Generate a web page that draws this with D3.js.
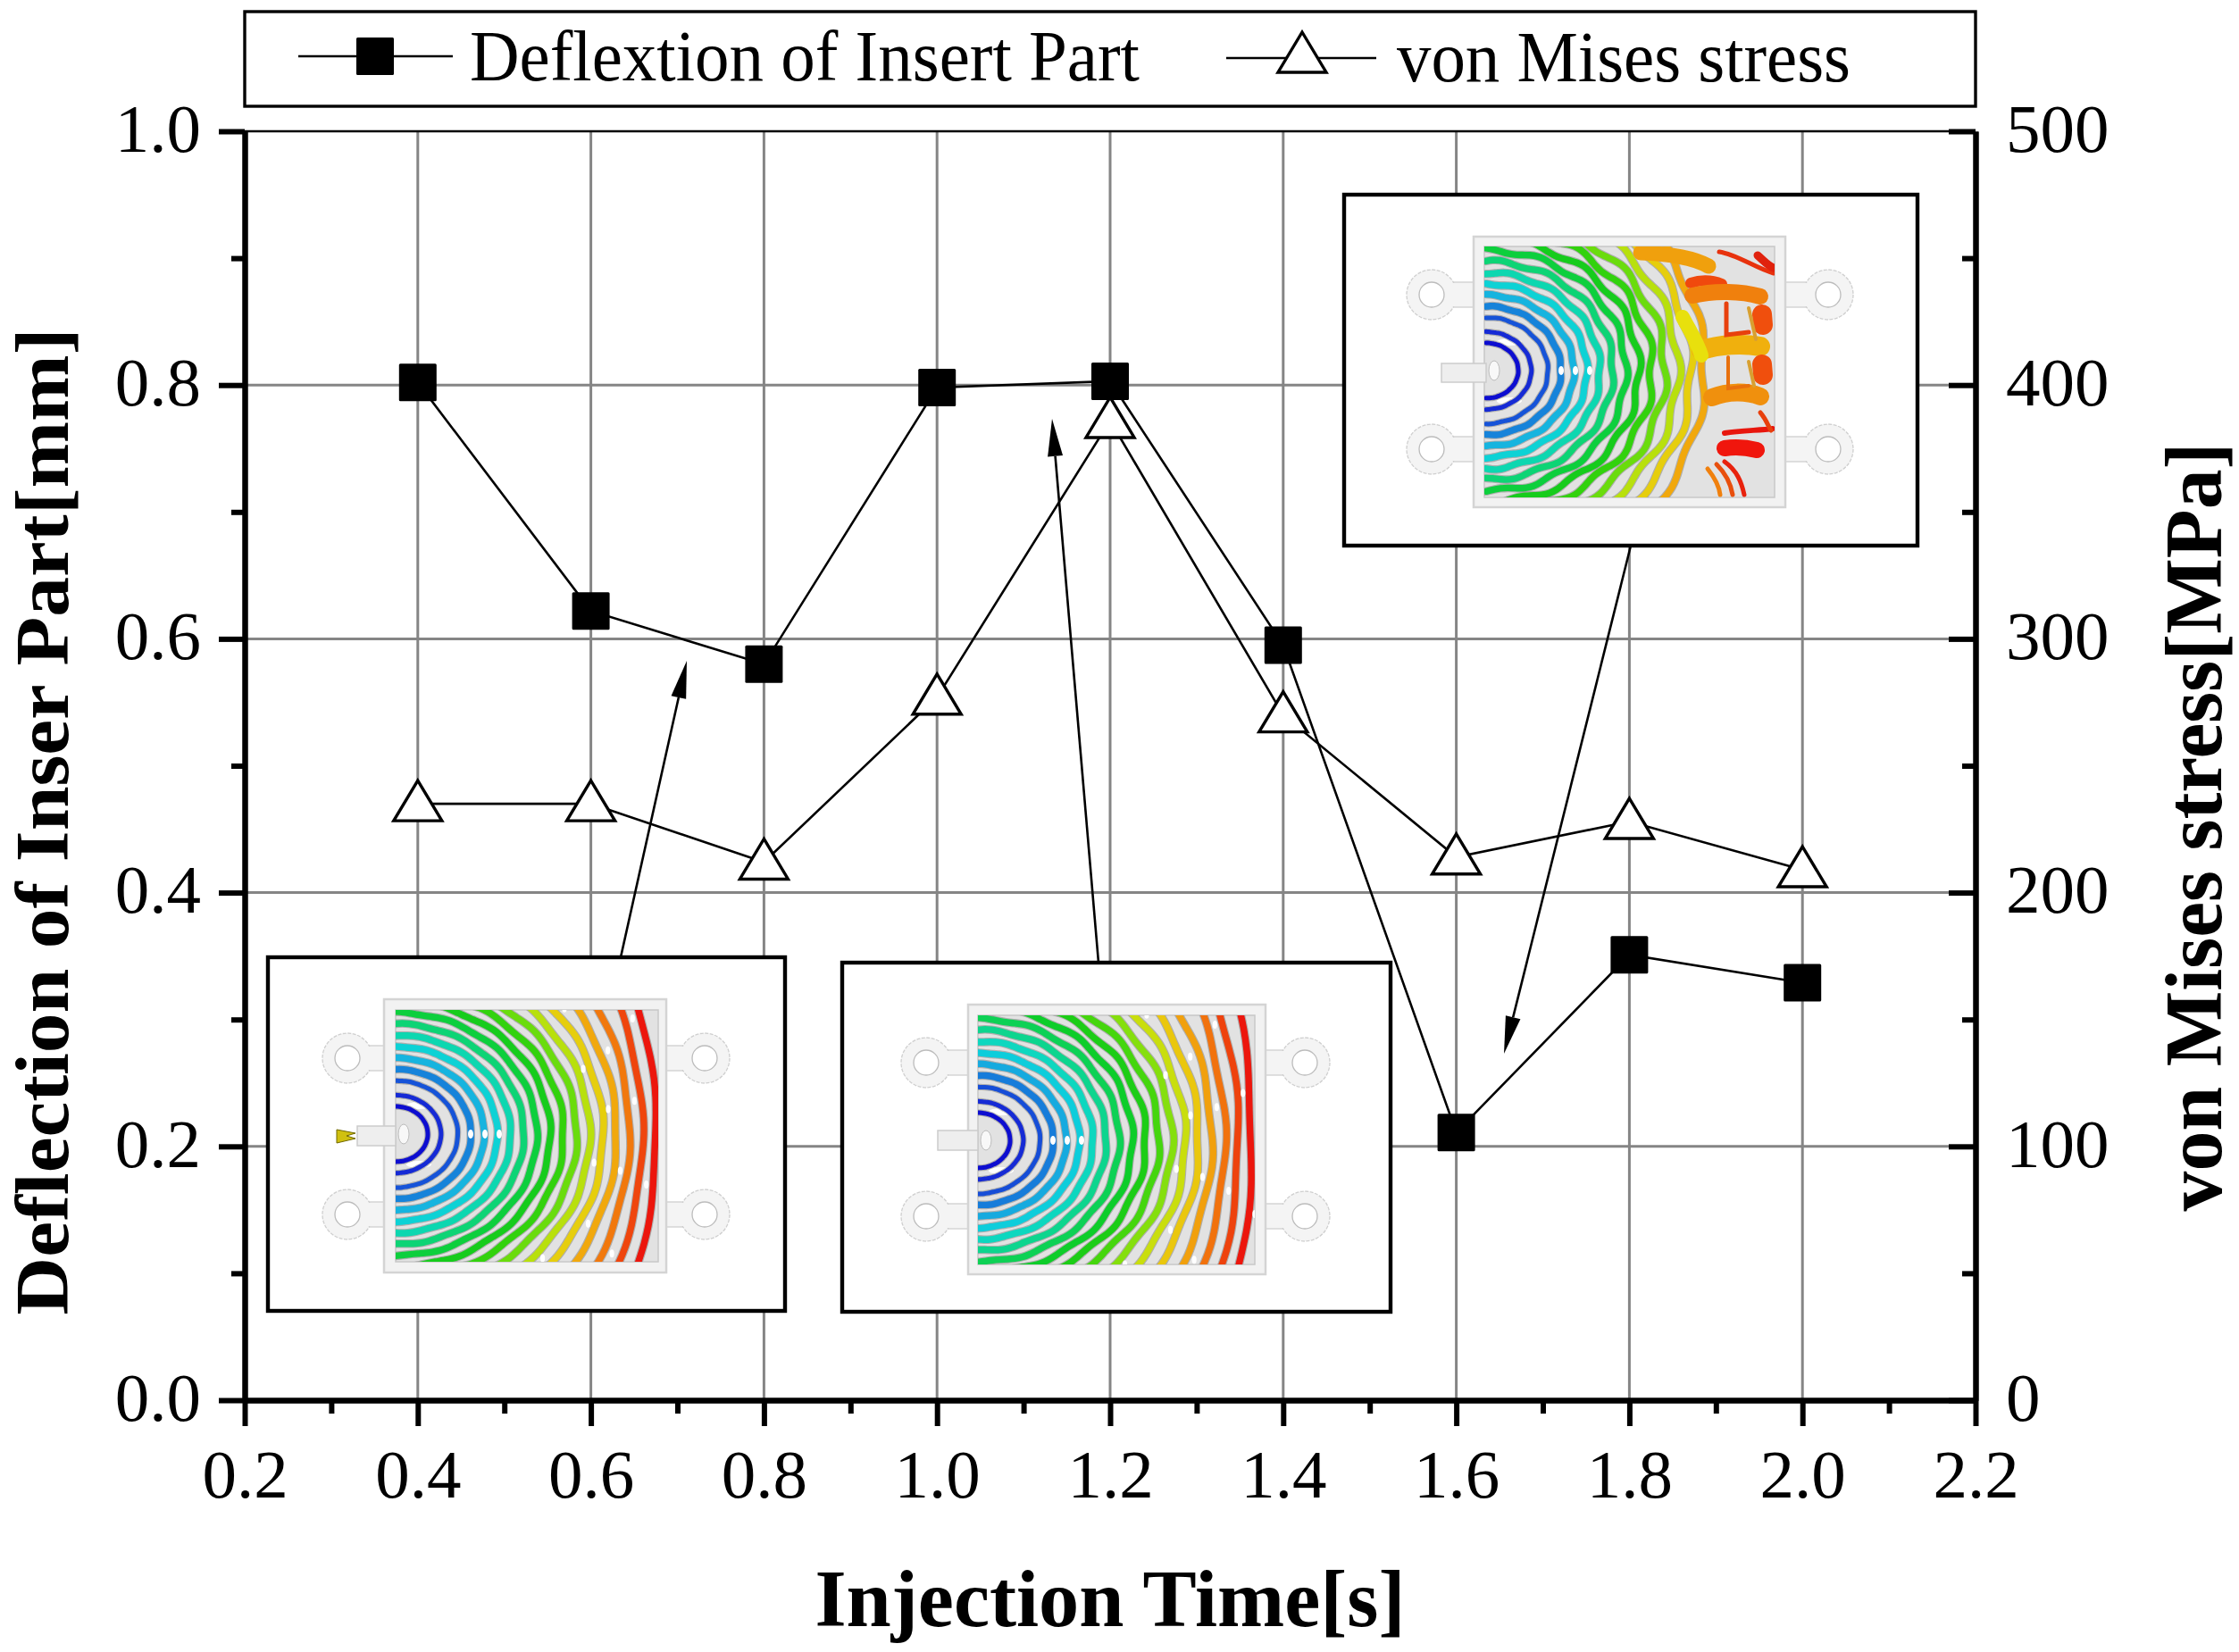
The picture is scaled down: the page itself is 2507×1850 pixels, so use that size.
<!DOCTYPE html>
<html>
<head>
<meta charset="utf-8">
<script src="https://cdn.jsdelivr.net/npm/d3@7/dist/d3.min.js"></script>
<style>
html,body{margin:0;padding:0;background:#fff;}
svg{display:block;}
text{font-family:"Liberation Serif",serif;fill:#000;}
</style>
</head>
<body>
<svg id="chart" width="2507" height="1850"></svg>
<script>
// ---- chart values ----
const injectionTimes = [0.4, 0.6, 0.8, 1.0, 1.2, 1.4, 1.6, 1.8, 2.0];
const deflection = [0.802, 0.622, 0.580, 0.798, 0.803, 0.595, 0.211, 0.351, 0.329];
const vonMises = [235, 235, 212, 277, 386, 270, 214, 228, 209];
const xMajorTicks = [0.2, 0.4, 0.6, 0.8, 1.0, 1.2, 1.4, 1.6, 1.8, 2.0, 2.2];
const xMinorTicks = [0.3, 0.5, 0.7, 0.9, 1.1, 1.3, 1.5, 1.7, 1.9, 2.1];
const deflMajorTicks = [0.0, 0.2, 0.4, 0.6, 0.8, 1.0];
const deflMinorTicks = [0.1, 0.3, 0.5, 0.7, 0.9];
const stressMajorTicks = [0, 100, 200, 300, 400, 500];
const stressMinorTicks = [50, 150, 250, 350, 450];
const legendLabels = ["Deflextion of Insert Part", "von Mises stress"];
const xTitle = "Injection Time[s]";
const yLeftTitle = "Deflection of Inser Part[mm]";
const yRightTitle = "von Mises stress[MPa]";

// ---- layout ----
const L = 274, R = 2212, T = 147, B = 1568;
const svg = d3.select("#chart");
const x = d3.scaleLinear().domain([0.2, 2.2]).range([L, R]);
const yL = d3.scaleLinear().domain([0, 1]).range([B, T]);
const yR = d3.scaleLinear().domain([0, 500]).range([B, T]);
const fmt1 = d3.format(".1f");
const LABEL_SIZE = 77;

// grid
const grid = svg.append("g").attr("stroke", "#858585").attr("stroke-width", 3).attr("fill", "none");
grid.selectAll("line.v").data(xMajorTicks.slice(1, -1)).join("line").attr("class", "v")
  .attr("x1", d => x(d)).attr("x2", d => x(d)).attr("y1", T).attr("y2", B);
grid.selectAll("line.h").data(deflMajorTicks.slice(1, -1)).join("line").attr("class", "h")
  .attr("x1", L).attr("x2", R).attr("y1", d => yL(d)).attr("y2", d => yL(d));

// top border
svg.append("line").attr("x1", L).attr("x2", R).attr("y1", T).attr("y2", T)
  .attr("stroke", "#000").attr("stroke-width", 2.5);

// axes
function styleAxis(g, tickW, domainW) {
  g.selectAll("path.domain").attr("stroke", "#000").attr("stroke-width", domainW).attr("fill", "none");
  g.selectAll(".tick line").attr("stroke", "#000").attr("stroke-width", tickW);
  g.selectAll("text").style("font-family", '"Liberation Serif",serif').style("font-size", LABEL_SIZE + "px").attr("fill", "#000");
  return g;
}
const axisLayer = svg.append("g");
styleAxis(axisLayer.append("g").attr("transform", `translate(${L},0)`)
  .call(d3.axisLeft(yL).tickValues(deflMajorTicks).tickSize(29).tickSizeOuter(0).tickPadding(20).tickFormat(fmt1)), 6, 6)
  .selectAll("text").attr("dy", "0.29em");
styleAxis(axisLayer.append("g").attr("transform", `translate(${L},0)`)
  .call(d3.axisLeft(yL).tickValues(deflMinorTicks).tickSize(15).tickSizeOuter(0).tickFormat("")), 6, 6);
styleAxis(axisLayer.append("g").attr("transform", `translate(${R},0)`)
  .call(d3.axisRight(yR).tickValues(stressMajorTicks).tickSize(-30).tickSizeOuter(0).tickPadding(34)), 6, 6)
  .selectAll("text").attr("dy", "0.29em");
styleAxis(axisLayer.append("g").attr("transform", `translate(${R},0)`)
  .call(d3.axisRight(yR).tickValues(stressMinorTicks).tickSize(-15).tickSizeOuter(0).tickFormat("")), 6, 6);
styleAxis(axisLayer.append("g").attr("transform", `translate(0,${B})`)
  .call(d3.axisBottom(x).tickValues(xMajorTicks).tickSize(29).tickSizeOuter(0).tickPadding(25).tickFormat(fmt1)), 6, 6);
styleAxis(axisLayer.append("g").attr("transform", `translate(0,${B})`)
  .call(d3.axisBottom(x).tickValues(xMinorTicks).tickSize(15).tickSizeOuter(0).tickFormat("")), 6, 6);

// series lines
const lineL = d3.line().x((d, i) => x(injectionTimes[i])).y(d => yL(d));
const lineR = d3.line().x((d, i) => x(injectionTimes[i])).y(d => yR(d));
svg.append("path").attr("d", lineL(deflection)).attr("fill", "none").attr("stroke", "#000").attr("stroke-width", 2.6);
svg.append("path").attr("d", lineR(vonMises)).attr("fill", "none").attr("stroke", "#000").attr("stroke-width", 2.6);

const SQ = 42;
const triPath = "M0,-26 L27,19 L-27,19 Z";
function square(g, cx, cy) {
  g.append("rect").attr("x", cx - SQ / 2).attr("y", cy - SQ / 2).attr("width", SQ).attr("height", SQ)
    .attr("rx", 1.5).attr("fill", "#000");
}
function triangle(g, cx, cy) {
  g.append("path").attr("d", triPath).attr("transform", `translate(${cx},${cy})`)
    .attr("fill", "#fff").attr("stroke", "#000").attr("stroke-width", 3.4).attr("stroke-linejoin", "miter");
}
const triLayer = svg.append("g");
vonMises.forEach((d, i) => triangle(triLayer, x(injectionTimes[i]), yR(d)));
const sqLayer = svg.append("g");
deflection.forEach((d, i) => square(sqLayer, x(injectionTimes[i]), yL(d)));

// ---- simulation insets ----
const jet = d3.interpolateRgbBasis(["#1010d0", "#1438d8", "#1888d8", "#10d8e8", "#10d8b0", "#10d040", "#10c810", "#50dc10", "#e4e810", "#f4b010", "#f06010", "#ec1408"]);
const insets = [
  { frame: [300, 1072, 879, 1468], outer: [430, 1119, 746, 1425], inner: [443, 1131, 737, 1413],
    lugX: [389, 789], lugY: [1185, 1360], gate: [443, 1270], runner: [400, 1261, 443, 1283],
    rings: 18, step: 14.8, wob: 1.3, streaks: [], nozzle: true },
  { frame: [943, 1078, 1557, 1469], outer: [1084, 1125, 1417, 1427], inner: [1095, 1137, 1405, 1416],
    lugX: [1037, 1461], lugY: [1190, 1362], gate: [1095, 1277], runner: [1050, 1266, 1095, 1288],
    rings: 19, step: 14.8, wob: 1.8, streaks: [], nozzle: false },
  { frame: [1505, 218, 2147, 611], outer: [1650, 265, 1999, 568], inner: [1662, 276, 1987, 557],
    lugX: [1603, 2047], lugY: [330, 503], gate: [1664, 415], runner: [1614, 407, 1664, 428],
    rings: 15, step: 14.6, wob: 3.4, nozzle: false,
    streaks: [
      ["#f0a010", 17, "M1837,283 C1865,284 1895,288 1913,298"],
      ["#e83010", 5, "M1925,282 C1945,285 1965,300 1986,306"],
      ["#e02010", 9, "M1968,286 C1975,292 1980,298 1986,300"],
      ["#f04810", 12, "M1893,317 C1905,313 1918,314 1928,318"],
      ["#f08010", 18, "M1895,331 C1920,325 1950,326 1971,332"],
      ["#f0b010", 22, "M1905,392 C1925,386 1950,384 1971,388"],
      ["#f09010", 20, "M1917,445 C1935,438 1955,438 1971,444"],
      ["#f01408", 18, "M1931,502 C1945,500 1955,501 1967,504"],
      ["#e81810", 6, "M1931,485 C1950,482 1970,482 1985,480"],
      ["#f05010", 22, "M1973,352 l1,12"],
      ["#f05010", 22, "M1973,408 l1,12"],
      ["#e84010", 5, "M1933,340 L1933,375 L1958,372"],
      ["#e87010", 4, "M1935,400 L1935,435 L1958,432"],
      ["#d8a030", 4, "M1958,345 L1966,380"],
      ["#d8a030", 4, "M1958,405 L1964,432"],
      ["#e84010", 5, "M1971,462 C1978,470 1980,478 1983,482"],
      ["#e82010", 5, "M1931,517 C1945,527 1950,540 1953,554"],
      ["#e85010", 5, "M1922,520 C1932,530 1938,542 1940,554"],
      ["#f08010", 5, "M1912,525 C1920,535 1925,545 1926,554"],
      ["#e8e010", 16, "M1884,355 C1893,372 1900,382 1905,398"]
    ] }
];
const defs = svg.append("defs");
defs.append("filter").attr("id", "soft").attr("x", "-5%").attr("y", "-5%").attr("width", "110%").attr("height", "110%")
  .append("feGaussianBlur").attr("stdDeviation", 0.7);

function ringShape(ins, a, idx) {
  const [gx, gy] = ins.gate;
  const extra = Math.max(0, (a - 170) / 114);
  const b = a * (0.86 + 0.41 * Math.pow(extra, 3));
  return d3.range(-90, 90.5, 3).map(deg => {
    const t = deg * Math.PI / 180;
    const ramp = Math.min(1, Math.pow(a / 190, 2));
    const w = ins.wob * Math.sin(deg * 0.27 + idx * 1.7) * ramp;
    return [gx + (a + w) * Math.cos(t), gy + (b + w) * Math.sin(t)];
  });
}

function drawInset(ins, k) {
  const g = svg.append("g");
  const [fx0, fy0, fx1, fy1] = ins.frame;
  g.append("rect").attr("x", fx0).attr("y", fy0).attr("width", fx1 - fx0).attr("height", fy1 - fy0)
    .attr("fill", "#fff").attr("stroke", "#000").attr("stroke-width", 4.4);
  const lugs = g.append("g");
  const [ox0, oy0, ox1, oy1] = ins.outer;
  ins.lugX.forEach(lx => ins.lugY.forEach(ly => {
    const toward = lx < ox0 ? ox0 : ox1;
    lugs.append("rect").attr("x", Math.min(lx, toward)).attr("y", ly - 14).attr("width", Math.abs(toward - lx)).attr("height", 28)
      .attr("fill", "#f4f4f4").attr("stroke", "#cfcfcf").attr("stroke-width", 1.3);
    lugs.append("circle").attr("cx", lx).attr("cy", ly).attr("r", 28)
      .attr("fill", "#f4f4f4").attr("stroke", "#cfcfcf").attr("stroke-width", 1.3).attr("stroke-dasharray", "4 1.5");
    lugs.append("rect").attr("x", Math.min(lx, toward) + (lx < ox0 ? 18 : 0)).attr("y", ly - 13).attr("width", Math.abs(toward - lx) - 18 + 2).attr("height", 26)
      .attr("fill", "#f4f4f4");
    lugs.append("circle").attr("cx", lx).attr("cy", ly).attr("r", 14)
      .attr("fill", "#fff").attr("stroke", "#bcbcbc").attr("stroke-width", 1.3);
  }));
  g.append("rect").attr("x", ox0).attr("y", oy0).attr("width", ox1 - ox0).attr("height", oy1 - oy0)
    .attr("fill", "#f2f2f2").attr("stroke", "#d4d4d4").attr("stroke-width", 2.5);
  const [ix0, iy0, ix1, iy1] = ins.inner;
  g.append("rect").attr("x", ix0).attr("y", iy0).attr("width", ix1 - ix0).attr("height", iy1 - iy0)
    .attr("fill", "#e2e2e2").attr("stroke", "#c8c8c8").attr("stroke-width", 1.5);
  const [rx0, ry0, rx1, ry1] = ins.runner;
  g.append("rect").attr("x", rx0).attr("y", ry0).attr("width", rx1 - rx0).attr("height", ry1 - ry0)
    .attr("fill", "#eeeeee").attr("stroke", "#cccccc").attr("stroke-width", 1.5);
  if (ins.nozzle) {
    const cy = (ry0 + ry1) / 2;
    g.append("path").attr("d", `M${rx0 - 23},${cy - 7} L${rx0 - 2},${cy - 3} L${rx0 - 12},${cy} L${rx0 - 2},${cy + 3} L${rx0 - 23},${cy + 8} Z`)
      .attr("fill", "#d0c010").attr("stroke", "#706800").attr("stroke-width", 1);
  }
  const clipId = "inner" + k;
  defs.append("clipPath").attr("id", clipId).append("rect")
    .attr("x", ix0).attr("y", iy0).attr("width", ix1 - ix0).attr("height", iy1 - iy0);
  const [gx, gy] = ins.gate;
  const flecks0 = g.append("g").attr("clip-path", `url(#${clipId})`).attr("filter", "url(#soft)");
  flecks0.append("ellipse").attr("cx", gx + 9).attr("cy", gy).attr("rx", 6).attr("ry", 11).attr("fill", "#f8f8f8").attr("stroke", "#bbb");
  [[26, -32, 14, 4], [26, 34, 14, 4]].forEach(f => {
    flecks0.append("ellipse").attr("cx", gx + f[0]).attr("cy", gy + f[1]).attr("rx", f[2]).attr("ry", f[3]).attr("fill", "#fff");
  });
  const rings = g.append("g").attr("clip-path", `url(#${clipId})`).attr("filter", "url(#soft)")
    .attr("fill", "none").attr("stroke-linecap", "round");
  const curve = d3.line().curve(d3.curveCatmullRom);
  const full = 18;
  d3.range(ins.rings).forEach(i => {
    const a = 36 + i * ins.step + (i > 1 ? 4 : 0);
    const d = curve(ringShape(ins, a, i));
    const c = jet(i / (full - 1 + (k === 1 ? 1 : 0)));
    const w = i < 3 ? 5 : 7.4;
    rings.append("path").attr("d", d).attr("stroke", "#7a7a7a").attr("stroke-width", w + 2.2).attr("opacity", 0.5);
    rings.append("path").attr("d", d).attr("stroke", c).attr("stroke-width", w);
  });
  (ins.streaks || []).forEach(s => {
    rings.append("path").attr("d", s[2]).attr("stroke", s[0]).attr("stroke-width", s[1]);
  });
  // broken, pale gaps in the flow fronts
  const flecks = g.append("g").attr("clip-path", `url(#${clipId})`).attr("fill", "#fff").attr("filter", "url(#soft)");
  [84, 100, 116].forEach(dx => flecks.append("ellipse").attr("cx", gx + dx).attr("cy", gy).attr("rx", 3).attr("ry", 5));
  const frontAngles = [-62, -38, -21, -7, 9, 26, 43, 66];
  if (k < 2) {
    d3.range(12, ins.rings).forEach(i => {
      const a = 36 + i * ins.step + 4 + ins.step / 2;
      frontAngles.forEach((deg, j) => {
        if ((i + j) % 2) return;
        const t = deg * Math.PI / 180;
        const b = a * (0.86 + 0.41 * Math.pow(Math.max(0, (a - 170) / 114), 3));
        flecks.append("ellipse").attr("cx", gx + a * Math.cos(t)).attr("cy", gy + b * Math.sin(t)).attr("rx", 2.6).attr("ry", 4.5);
      });
    });
  }
}
insets.forEach(drawInset);

// ---- arrows (callouts) ----
function arrow(x1, y1, x2, y2) {
  const ang = Math.atan2(y2 - y1, x2 - x1);
  const len = 42, hw = 8.5;
  const bx = x2 - len * Math.cos(ang), by = y2 - len * Math.sin(ang);
  const nx = -Math.sin(ang), ny = Math.cos(ang);
  svg.append("line").attr("x1", x1).attr("y1", y1).attr("x2", bx).attr("y2", by).attr("stroke", "#000").attr("stroke-width", 2.6);
  svg.append("path").attr("d", `M${x2},${y2} L${bx + nx * hw},${by + ny * hw} L${bx - nx * hw},${by - ny * hw} Z`).attr("fill", "#000");
}
arrow(695, 1072, 769, 740);
arrow(1230, 1078, 1178, 469);
arrow(1826, 611, 1684, 1180);

// ---- legend ----
svg.append("rect").attr("x", L).attr("y", 13).attr("width", R - L).attr("height", 106)
  .attr("fill", "#fff").attr("stroke", "#000").attr("stroke-width", 3.4);
const legend = svg.append("g");
legend.append("line").attr("x1", 334).attr("x2", 507).attr("y1", 63).attr("y2", 63).attr("stroke", "#000").attr("stroke-width", 2.6);
square(legend, 420, 63);
legend.append("line").attr("x1", 1373).attr("x2", 1541).attr("y1", 65).attr("y2", 65).attr("stroke", "#000").attr("stroke-width", 2.6);
triangle(legend, 1458, 62);
legend.append("text").attr("x", 526).attr("y", 90).style("font-size", "80px")
  .attr("textLength", 750).attr("lengthAdjust", "spacingAndGlyphs").text(legendLabels[0]);
legend.append("text").attr("x", 1564).attr("y", 91).style("font-size", "80px")
  .attr("textLength", 508).attr("lengthAdjust", "spacingAndGlyphs").text(legendLabels[1]);

// ---- axis titles ----
svg.append("text").attr("x", 1243).attr("y", 1821).attr("text-anchor", "middle")
  .style("font-size", "90px").style("font-weight", "bold")
  .attr("textLength", 661).attr("lengthAdjust", "spacingAndGlyphs").text(xTitle);
svg.append("text").attr("transform", "translate(76,920) rotate(-90)").attr("text-anchor", "middle")
  .style("font-size", "85px").style("font-weight", "bold")
  .attr("textLength", 1105).attr("lengthAdjust", "spacingAndGlyphs").text(yLeftTitle);
svg.append("text").attr("transform", "translate(2487,926) rotate(-90)").attr("text-anchor", "middle")
  .style("font-size", "90px").style("font-weight", "bold")
  .attr("textLength", 861).attr("lengthAdjust", "spacingAndGlyphs").text(yRightTitle);
</script>
</body>
</html>
